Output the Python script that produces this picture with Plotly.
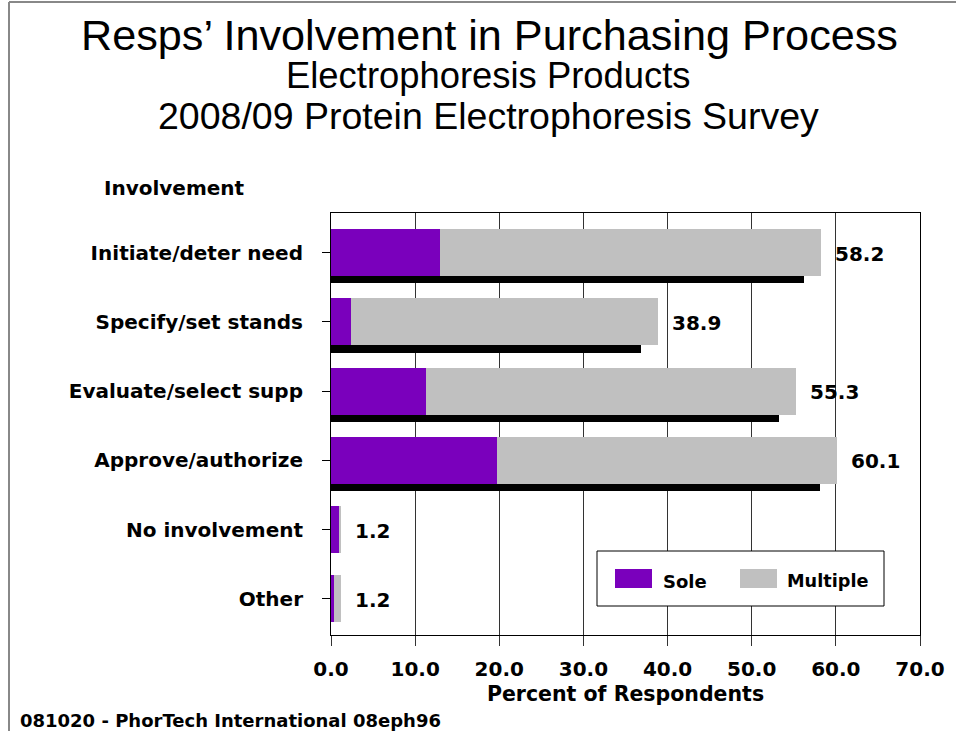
import plotly.graph_objects as go

categories = ["Initiate/deter need", "Specify/set stands", "Evaluate/select supp",
              "Approve/authorize", "No involvement", "Other"]
sole = [13.0, 2.4, 11.3, 19.7, 0.9, 0.4]
multiple = [45.2, 36.5, 44.0, 40.4, 0.3, 0.8]
totals = [58.2, 38.9, 55.3, 60.1, 1.2, 1.2]
x_ticks = [0, 10, 20, 30, 40, 50, 60, 70]

PURPLE = "#7A00BC"
GRAY = "#C0C0C0"
FONT = "DejaVu Sans"
SHADOW_SHIFT = 2.0
BAR_W = 0.678
SH_W = 0.105

idx = list(range(len(categories)))
shadow = [max(t - SHADOW_SHIFT, 0) for t in totals]

W, H, L, R, T, B = 956, 731, 331, 36, 213, 96
pw, ph = W - L - R, H - T - B


def px_x(x):
    return (x - L) / pw


def px_y(y):
    return (H - B - y) / ph


fig = go.Figure()
fig.add_trace(go.Bar(y=idx, x=shadow, orientation="h", marker_color="black",
                     marker_line_width=0, width=SH_W, offset=BAR_W / 2,
                     showlegend=False, hoverinfo="skip"))
fig.add_trace(go.Bar(y=idx, x=sole, orientation="h", name="Sole",
                     marker_color=PURPLE, marker_line_width=0, width=BAR_W))
fig.add_trace(go.Bar(y=idx, x=multiple, base=sole, orientation="h", name="Multiple",
                     marker_color=GRAY, marker_line_width=0, width=BAR_W))

bold = lambda s: dict(family=FONT, size=s, color="black", weight="bold")

annotations = []
for i, t in zip(idx, totals):
    annotations.append(dict(x=t, y=i, xref="x", yref="y", text=f"{t:.1f}",
                            showarrow=False, xanchor="left", xshift=12, yshift=-1,
                            font=bold(20)))


def page_text(text, x, y, font, xanchor="center"):
    return dict(x=px_x(x), y=px_y(y), xref="paper", yref="paper", text=text,
                showarrow=False, xanchor=xanchor, yanchor="middle", font=font)


annotations += [
    page_text("Resps’ Involvement in Purchasing Process", 489, 35,
              dict(family="Liberation Sans", size=43.2, color="black")),
    page_text("Electrophoresis Products", 488, 76,
              dict(family="Liberation Sans", size=36.4, color="black")),
    page_text("2008/09 Protein Electrophoresis Survey", 488, 116,
              dict(family="Liberation Sans", size=37.5, color="black")),
    page_text("Involvement", 102, 188, bold(20), "left"),
    page_text("081020 - PhorTech International 08eph96", 18, 720, bold(18), "left"),
    page_text("Sole", 661, 581, bold(18), "left"),
    page_text("Multiple", 785, 581, bold(17.7), "left"),
]

shapes = [
    dict(type="rect", xref="paper", yref="paper", x0=px_x(597), x1=px_x(884),
         y0=px_y(606), y1=px_y(551), line=dict(color="black", width=1), fillcolor="white",
         layer="above"),
    dict(type="rect", xref="paper", yref="paper", x0=px_x(615), x1=px_x(652),
         y0=px_y(588), y1=px_y(569), line=dict(width=0), fillcolor=PURPLE, layer="above"),
    dict(type="rect", xref="paper", yref="paper", x0=px_x(740), x1=px_x(777),
         y0=px_y(588), y1=px_y(569), line=dict(width=0), fillcolor=GRAY, layer="above"),
    dict(type="line", xref="paper", yref="paper", x0=px_x(9), x1=px_x(9),
         y0=px_y(2), y1=px_y(731), line=dict(color="#888888", width=2)),
    dict(type="line", xref="paper", yref="paper", x0=px_x(9), x1=px_x(956),
         y0=px_y(2), y1=px_y(2), line=dict(color="#888888", width=2)),
]

fig.update_layout(
    width=W, height=H,
    margin=dict(l=L, r=R, t=T, b=B),
    paper_bgcolor="white", plot_bgcolor="white",
    barmode="overlay", bargap=0,
    showlegend=False,
    xaxis=dict(range=[0, 70], tickvals=x_ticks, ticktext=[f"{v:.1f}" for v in x_ticks],
               showgrid=True, gridcolor="#333333", gridwidth=1,
               ticks="outside", ticklen=10, tickcolor="#333333",
               showline=True, linecolor="black", linewidth=1, mirror=True,
               zeroline=False, ticklabelstandoff=6,
               tickfont=bold(20),
               title=dict(text="Percent of Respondents", standoff=6, font=bold(20.5))),
    yaxis=dict(range=[5.52, -0.57], tickvals=idx, ticktext=categories,
               showgrid=False, zeroline=False,
               ticks="outside", ticklen=8, tickcolor="black",
               showline=True, linecolor="black", linewidth=1, mirror=True,
               ticklabelstandoff=15,
               tickfont=bold(20)),
    annotations=annotations,
    shapes=shapes,
)

fig.write_html("out.html", config={"displayModeBar": False},
               post_script="document.body.style.margin='0';")
